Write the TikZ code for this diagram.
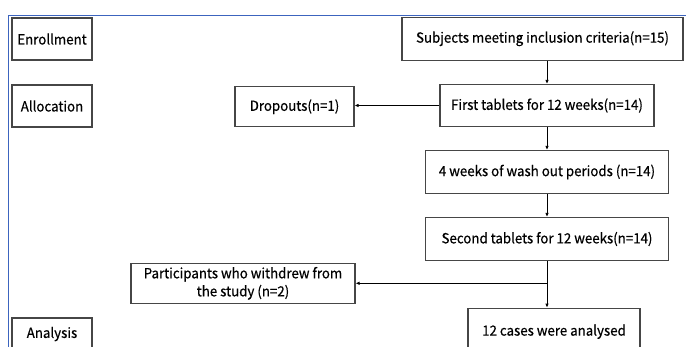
\documentclass[tikz,border=0pt]{standalone}
\usepackage{xcolor}
\usepackage{fontspec}
\setmainfont[FakeStretch=0.95, FakeBold=0.5]{Noto Sans CJK JP}
\usetikzlibrary{arrows.meta}

\definecolor{framebl}{RGB}{60,100,190}
\definecolor{boxline}{RGB}{70,70,70}

\tikzset{
    stagebox/.style={draw=boxline, line width=1.1pt, minimum width=80pt, minimum height=42pt, inner sep=0pt},
    flowbox/.style={draw=boxline, line width=1.1pt, inner sep=0pt, align=center},
    flowarrow/.style={line width=0.9pt, -{Latex[length=4pt,width=3.5pt]}}
}

\begin{document}
\begin{tikzpicture}[x=1pt, y=-1pt, font=\fontsize{14}{18}\selectfont]
                \useasboundingbox (0,0) rectangle (686,347);
                \clip (0,0) rectangle (686,347);

                \draw[framebl, line width=1.6pt] (8.5,400) -- (8.5,15.5) -- (700,15.5);

                \node[stagebox] (enroll) at (52,39) {Enrollment};
                \node[stagebox] (alloc) at (52,106) {Allocation};
                \node[stagebox, minimum height=32pt] (analysis) at (52,334) {Analysis};

                \node[flowbox, minimum width=281pt, minimum height=43pt] (subj) at (542.5,38.7) {Subjects meeting inclusion criteria(n=15)};
                \node[flowbox, minimum width=214pt, minimum height=42pt] (first) at (547,105.5) {First tablets for 12 weeks(n=14)};
                \node[flowbox, minimum width=119pt, minimum height=40pt] (drop) at (294.5,106.7) {Dropouts(n=1)};
                \node[flowbox, minimum width=243pt, minimum height=43pt] (wash) at (547,172) {4 weeks of wash out periods (n=14)};
                \node[flowbox, minimum width=243pt, minimum height=43pt] (second) at (547,239) {Second tablets for 12 weeks(n=14)};
                \node[flowbox, minimum width=224pt, minimum height=40pt] (part) at (243,283.3) {Participants who withdrew from\\the study (n=2)};
                \node[flowbox, minimum width=172pt, minimum height=47pt] (cases) at (554,331.7) {12 cases were analysed};

                \draw[flowarrow] (first.north |- subj.south) -- (first.north);
                \draw[flowarrow] (first.west) -- (first.west -| drop.east);
                \draw[flowarrow] (first.south -| wash.north) -- (wash.north);
                \draw[flowarrow] (wash.south) -- (second.north);

                \coordinate (split) at (second.south |- part.east);
                \draw[flowarrow] (second.south) -- (second.south |- cases.north);
                \draw[flowarrow] (split) -- (part.east);
\end{tikzpicture}
\end{document}
